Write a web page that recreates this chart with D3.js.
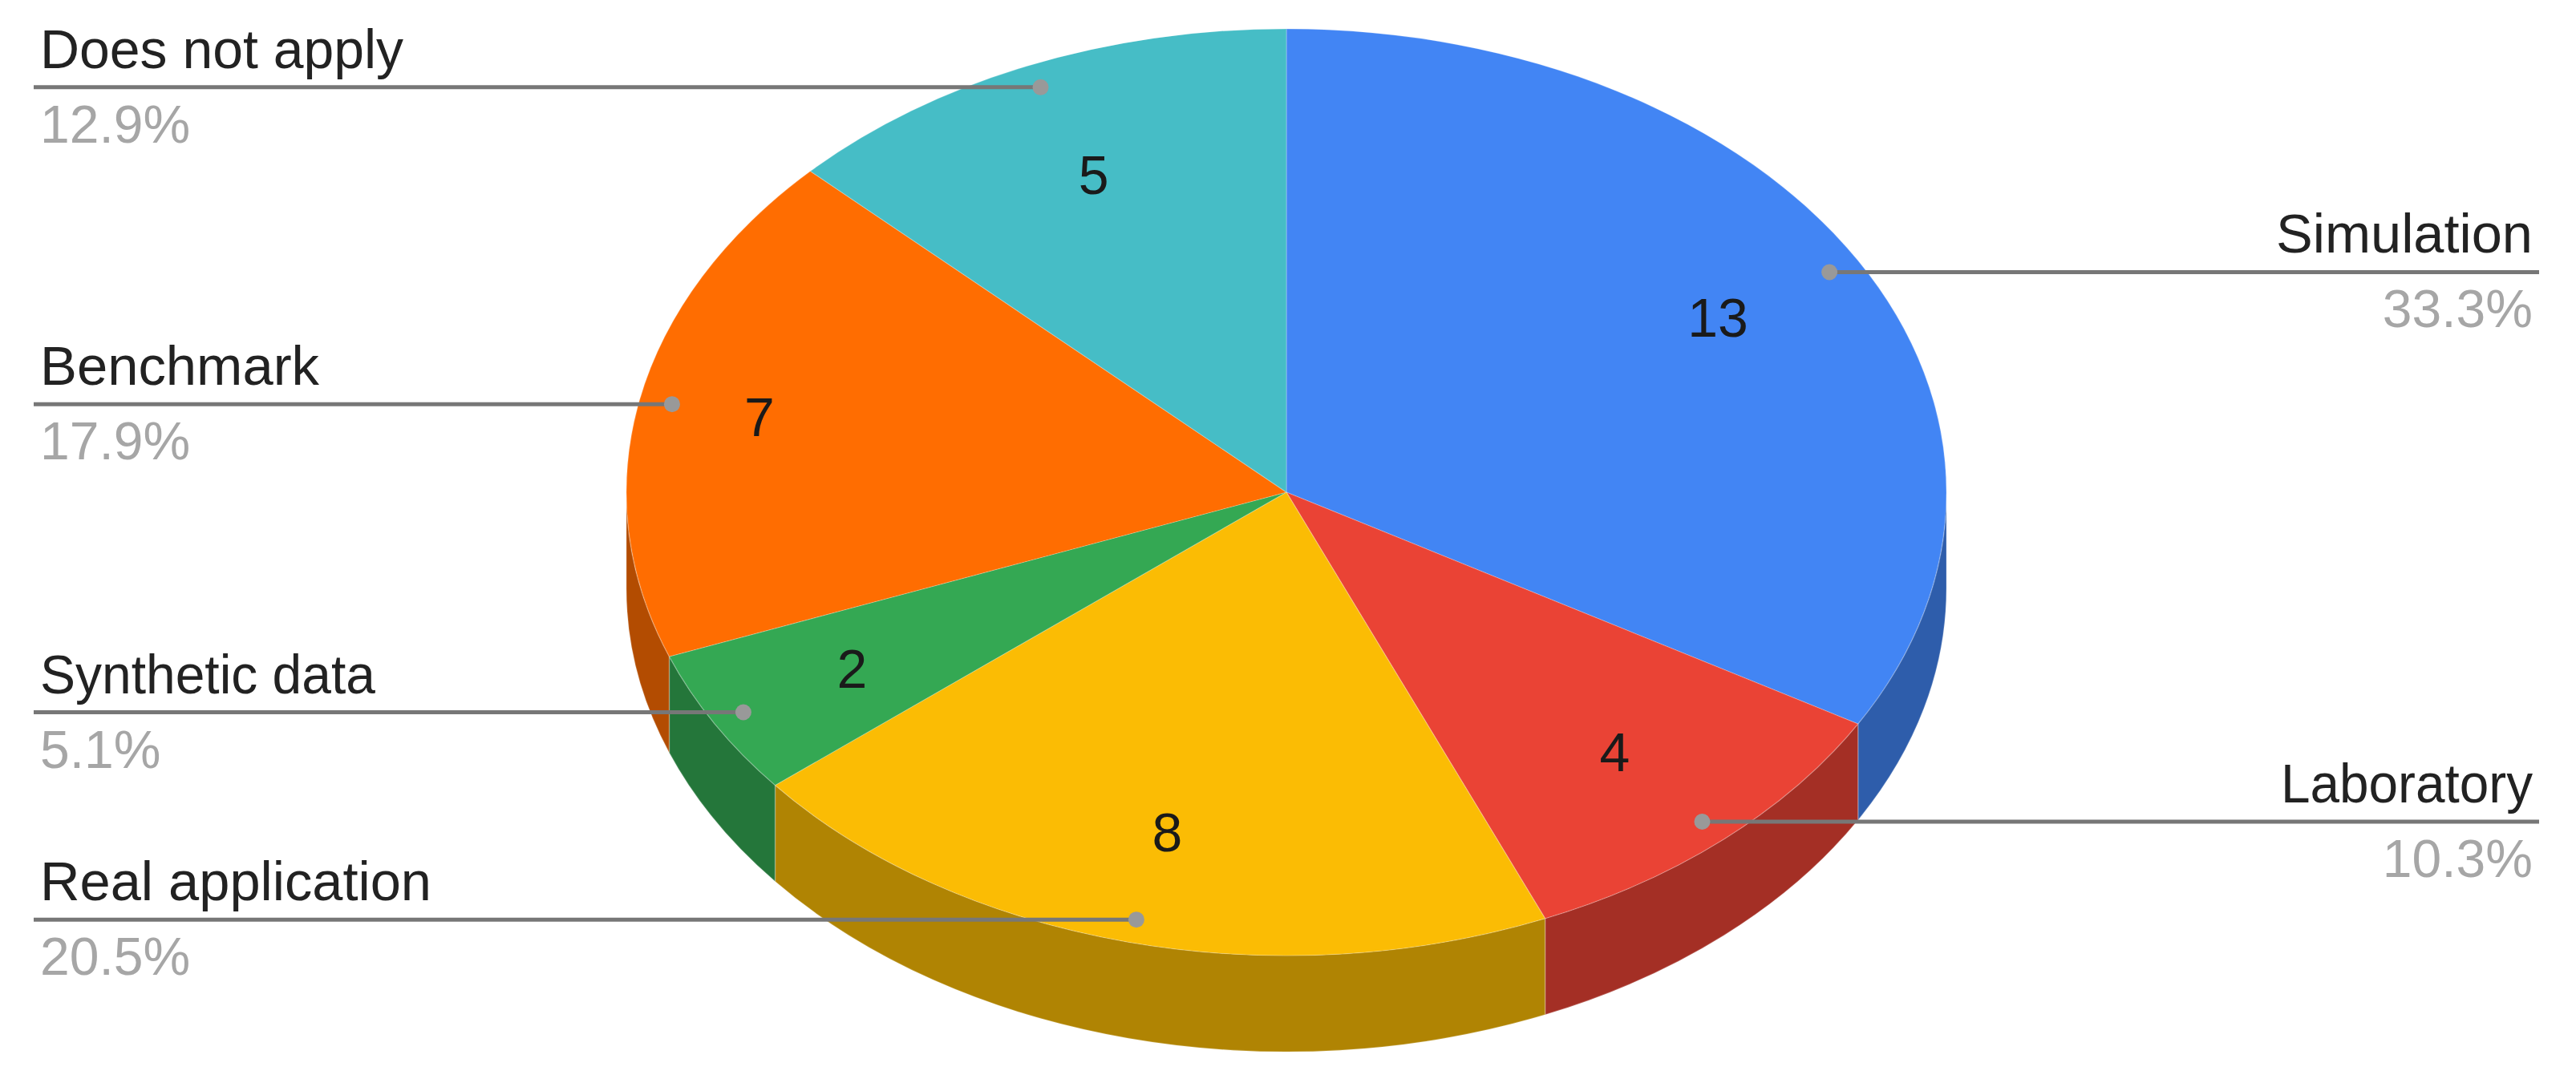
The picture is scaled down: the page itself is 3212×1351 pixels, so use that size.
<!DOCTYPE html>
<html lang="en">
<head>
<meta charset="utf-8">
<title>Pie chart</title>
<script src="https://d3js.org/d3.v7.min.js"></script>
<style>
  body { margin: 0; background: #fff; }
  svg { display: block; }
  text { font-family: "Liberation Sans", Arial, sans-serif; font-size: 66px; }
  .name, .value { font-size: 68px; }
</style>
</head>
<body>
<div id="my_dataviz"></div>
<script>
// data, clockwise from 12 o'clock
var categories = ["Simulation", "Laboratory", "Real application", "Synthetic data", "Benchmark", "Does not apply"]
var values = [13, 4, 8, 2, 7, 5]
var percentLabels = ["33.3%", "10.3%", "20.5%", "5.1%", "17.9%", "12.9%"]
var colors = ["#4285f4", "#ea4335", "#fbbc04", "#34a853", "#ff6d01", "#46bdc6"]

var width = 3212
var height = 1351
var cx = 1604, cy = 614
var rx = 823, ry = 578
var depth = 120
var lineLeft = 42, lineRight = 3166
var textLeft = 50, textRight = 3158
// how far out each value sits on its slice, the chart doesn't keep them even
var valueRadius = [0.755, 0.75, 0.755, 0.76, 0.815, 0.745]
// the original's hinted text runs a little uneven, so pin the name widths
var nameWidths = [320, 314, 488, 418, 348, 453]

var svg = d3.select("#my_dataviz")
  .append("svg")
  .attr("width", width)
  .attr("height", height)

var slices = d3.pie().sort(null).value(function(d) { return d })(values)

function px(a, k) { return cx + k * rx * Math.sin(a) }
function py(a, k) { return cy - k * ry * Math.cos(a) }

function shade(c) {
  var r = d3.rgb(c)
  return d3.rgb(r.r * 0.7, r.g * 0.7, r.b * 0.7).formatHex()
}

// side wall, only the front half of the rim shows
function wall(d) {
  var a0 = Math.max(d.startAngle, Math.PI / 2)
  var a1 = Math.min(d.endAngle, Math.PI * 1.5)
  if (a1 <= a0) return null
  return "M" + px(a0, 1) + "," + py(a0, 1) +
    "A" + rx + "," + ry + " 0 0 1 " + px(a1, 1) + "," + py(a1, 1) +
    "L" + px(a1, 1) + "," + (py(a1, 1) + depth) +
    "A" + rx + "," + ry + " 0 0 0 " + px(a0, 1) + "," + (py(a0, 1) + depth) + "Z"
}

svg.append("g").selectAll("path")
  .data(slices)
  .enter()
  .append("path")
  .attr("d", wall)
  .attr("fill", function(d, i) { return shade(colors[i]) })
  .attr("stroke", "#fff")
  .attr("stroke-opacity", 0.2)
  .attr("stroke-width", 1.5)

// top face: a normal arc squashed into an ellipse
var arc = d3.arc().innerRadius(0).outerRadius(rx)
svg.append("g")
  .attr("transform", "translate(" + cx + "," + cy + ") scale(1," + ry / rx + ")")
  .selectAll("path")
  .data(slices)
  .enter()
  .append("path")
  .attr("d", arc)
  .attr("fill", function(d, i) { return colors[i] })
  .attr("stroke", "#fff")
  .attr("stroke-opacity", 0.2)
  .attr("stroke-width", 1.5)

function mid(d) { return (d.startAngle + d.endAngle) / 2 }

// values on the slices
svg.append("g").selectAll("text")
  .data(slices)
  .enter()
  .append("text")
  .attr("class", "value")
  .attr("x", function(d, i) { return px(mid(d), valueRadius[i]) })
  .attr("y", function(d, i) { return py(mid(d), valueRadius[i]) + 24 })
  .attr("text-anchor", "middle")
  .attr("fill", "#1a1a1a")
  .text(function(d) { return d.data })

// leaders and outside labels
var labels = svg.append("g").selectAll("g")
  .data(slices)
  .enter()
  .append("g")

function onRight(d) { return mid(d) < Math.PI }

labels.append("line")
  .attr("x1", function(d) { return px(mid(d), 0.95) })
  .attr("x2", function(d) { return onRight(d) ? lineRight : lineLeft })
  .attr("y1", function(d) { return py(mid(d), 0.95) })
  .attr("y2", function(d) { return py(mid(d), 0.95) })
  .attr("stroke", "#777")
  .attr("stroke-width", 5)

labels.append("circle")
  .attr("cx", function(d) { return px(mid(d), 0.95) })
  .attr("cy", function(d) { return py(mid(d), 0.95) })
  .attr("r", 10)
  .attr("fill", "#999")

labels.append("text")
  .attr("class", "name")
  .attr("x", function(d) { return onRight(d) ? textRight : textLeft })
  .attr("y", function(d) { return py(mid(d), 0.95) - 24 })
  .attr("text-anchor", function(d) { return onRight(d) ? "end" : "start" })
  .attr("textLength", function(d, i) { return nameWidths[i] })
  .attr("lengthAdjust", "spacingAndGlyphs")
  .attr("fill", "#222")
  .text(function(d, i) { return categories[i] })

labels.append("text")
  .attr("x", function(d) { return onRight(d) ? textRight : textLeft })
  .attr("y", function(d) { return py(mid(d), 0.95) + 69 })
  .attr("text-anchor", function(d) { return onRight(d) ? "end" : "start" })
  .attr("fill", "#a6a6a6")
  .text(function(d, i) { return percentLabels[i] })
</script>
</body>
</html>
